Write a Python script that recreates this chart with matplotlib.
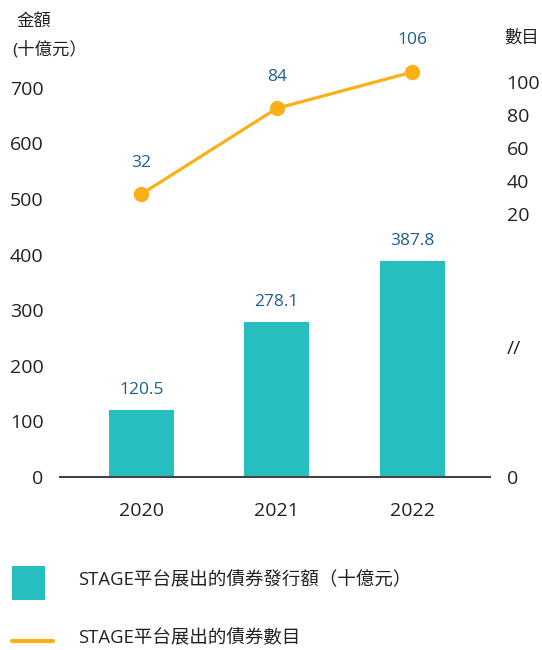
import matplotlib
matplotlib.use("Agg")
import matplotlib.pyplot as plt
from matplotlib.patches import Rectangle
from matplotlib.lines import Line2D

plt.rcParams['font.family'] = ['Open Sans', 'Noto Sans CJK TC', 'DejaVu Sans']

years = ["2020", "2021", "2022"]
amounts = [120.5, 278.1, 387.8]
counts = [32, 84, 106]
left_ticks = [0, 100, 200, 300, 400, 500, 600, 700]
right_ticks = [20, 40, 60, 80, 100]
bar_label = "STAGE平台展出的債券發行額（十億元）"
line_label = "STAGE平台展出的債券數目"

TEAL = "#27BEBF"
ORANGE = "#FBB017"
LABEL_BLUE = "#1F5F8B"
TXT = "#222222"

W, H = 542, 650
fig = plt.figure(figsize=(W / 100, H / 100), dpi=100)
ax_left, ax_right_px, ax_bottom_px, ax_top_px = 60, 490, 477, 60
ax = fig.add_axes([ax_left / W, 1 - ax_bottom_px / H,
                   (ax_right_px - ax_left) / W, (ax_bottom_px - ax_top_px) / H])

x = list(range(len(years)))
ax.bar(x, amounts, width=0.48, color=TEAL, zorder=2)
ax.set_xlim(-0.6, 2.575)
ax.set_ylim(0, 750)
ax.set_yticks(left_ticks)
ax.set_yticklabels([str(t) for t in left_ticks])
ax.set_xticks(x)
ax.set_xticklabels(years)
ax.tick_params(axis='both', length=0, labelsize=14, colors=TXT)
ax.tick_params(axis='x', pad=18)
ax.tick_params(axis='y', pad=12)
for s in ["top", "right", "left"]:
    ax.spines[s].set_visible(False)
ax.spines["bottom"].set_color("#444444")
ax.spines["bottom"].set_linewidth(1.5)

for xi, v in zip(x, amounts):
    ax.annotate(f"{v}", (xi, v), xytext=(0, 9), textcoords="offset points",
                ha="center", va="bottom", fontsize=12.5, color=LABEL_BLUE)

# right axis (broken display: 0, //, 20..100)
ax2 = ax.twinx()
px_per_unit = 1.65
v_bottom = 20 - (477 - 214) / px_per_unit
v_top = 100 + (82 - 60) / px_per_unit
ax2.set_ylim(v_bottom, v_top)
v_break = 20 - (347 - 214) / px_per_unit
ax2.set_yticks([v_bottom, v_break] + right_ticks)
ax2.set_yticklabels(["0", "//"] + [str(t) for t in right_ticks])
ax2.tick_params(axis='y', length=0, labelsize=14, colors=TXT, pad=12)
for s in ["top", "right", "left", "bottom"]:
    ax2.spines[s].set_visible(False)

ax2.plot(x, counts, color=ORANGE, lw=2.3, marker="o", markersize=10, zorder=3)
for xi, v in zip(x, counts):
    ax2.annotate(f"{v}", (xi, v), xytext=(0, 17), textcoords="offset points",
                 ha="center", va="bottom", fontsize=12.5, color=LABEL_BLUE)

fig.text(16 / W, 1 - 22 / H, "金額", fontsize=12.5, color=TXT, va="center", ha="left")
fig.text(12 / W, 1 - 50 / H, "(十億元）", fontsize=12.5, color=TXT, va="center", ha="left")
fig.text(504 / W, 1 - 38 / H, "數目", fontsize=12.5, color=TXT, va="center", ha="left")

# legend
fig.add_artist(Rectangle((12 / W, 1 - 600 / H), 33 / W, 34 / H,
                         transform=fig.transFigure, color=TEAL, lw=0))
fig.text(78 / W, 1 - 580 / H, bar_label, fontsize=13.3, color=TXT, va="center", ha="left")
fig.add_artist(Line2D([12 / W, 53 / W], [1 - 641 / H, 1 - 641 / H],
                      transform=fig.transFigure, color=ORANGE, lw=3,
                      solid_capstyle="round"))
fig.text(78 / W, 1 - 638 / H, line_label, fontsize=13.3, color=TXT, va="center", ha="left")

fig.savefig("out.png", dpi=100)
